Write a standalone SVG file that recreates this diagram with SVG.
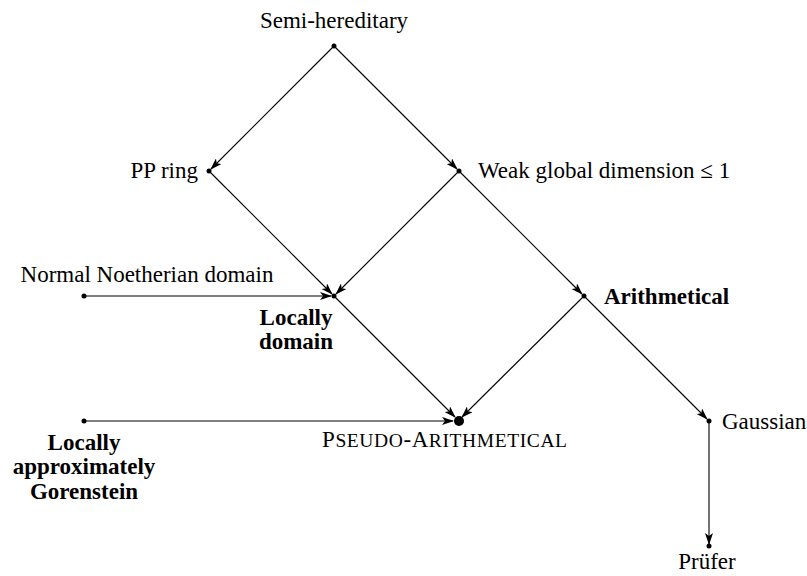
<svg xmlns="http://www.w3.org/2000/svg" width="807" height="576" viewBox="0 0 807 576">
<style>
text{font-family:"Liberation Serif","Times New Roman",serif;font-size:23px;fill:#000}
.b{font-weight:bold}
.e{stroke:#000;stroke-width:1.1;fill:none;marker-end:url(#ah)}
.d{fill:#000}
</style>
<defs>
<marker id="ah" viewBox="0 0 12 8" refX="11" refY="4" markerWidth="12" markerHeight="8" markerUnits="userSpaceOnUse" orient="auto">
<path d="M0,0 L12,4 L0,8 L3,4 Z" fill="#000"/>
</marker>
</defs>
<rect width="807" height="576" fill="#fff"/>
<g id="connectors">
<line class="e" x1="334" y1="46" x2="211" y2="169"/>
<line class="e" x1="334" y1="46" x2="457" y2="169"/>
<line class="e" x1="209" y1="171" x2="332" y2="294"/>
<line class="e" x1="459" y1="171" x2="336" y2="294"/>
<line class="e" x1="459" y1="171" x2="582" y2="294"/>
<line class="e" x1="84" y1="296" x2="331" y2="296"/>
<line class="e" x1="334" y1="296" x2="455" y2="417"/>
<line class="e" x1="584" y1="296" x2="462" y2="417"/>
<line class="e" x1="584" y1="296" x2="707" y2="419"/>
<line class="e" x1="84" y1="421" x2="453" y2="421"/>
<line class="e" x1="709" y1="421" x2="709" y2="544"/>
</g>
<g id="semi"><circle class="d" cx="334" cy="46" r="2.5"/><text x="334" y="28" text-anchor="middle">Semi-hereditary</text></g>
<g id="pp"><circle class="d" cx="209" cy="171" r="2.5"/><text x="198" y="178" text-anchor="end">PP ring</text></g>
<g id="weak"><circle class="d" cx="459" cy="171" r="2.5"/><text x="478" y="178">Weak global dimension ≤ 1</text></g>
<g id="normal"><circle class="d" cx="84" cy="296" r="2.5"/><text x="147" y="282" text-anchor="middle">Normal Noetherian domain</text></g>
<g id="locdomain"><circle class="d" cx="334" cy="296" r="2.5"/><text class="b" x="296" y="325" text-anchor="middle">Locally</text><text class="b" x="296" y="349" text-anchor="middle">domain</text></g>
<g id="arith"><circle class="d" cx="584" cy="296" r="2.5"/><text class="b" x="604" y="304">Arithmetical</text></g>
<g id="lag"><circle class="d" cx="84" cy="421" r="2.5"/><text class="b" x="84" y="450" text-anchor="middle">Locally</text><text class="b" x="84" y="474" text-anchor="middle">approximately</text><text class="b" x="84" y="499" text-anchor="middle">Gorenstein</text></g>
<g id="pseudo"><circle class="d" cx="459" cy="421" r="5"/><text x="322" y="447" textLength="245" lengthAdjust="spacing">P<tspan font-size="19.5">SEUDO</tspan>-A<tspan font-size="19.5">RITHMETICAL</tspan></text></g>
<g id="gauss"><circle class="d" cx="709" cy="421" r="2.5"/><text x="722" y="429">Gaussian</text></g>
<g id="prufer"><circle class="d" cx="709" cy="546" r="2.5"/><text x="707" y="569" text-anchor="middle">Prüfer</text></g>
</svg>
